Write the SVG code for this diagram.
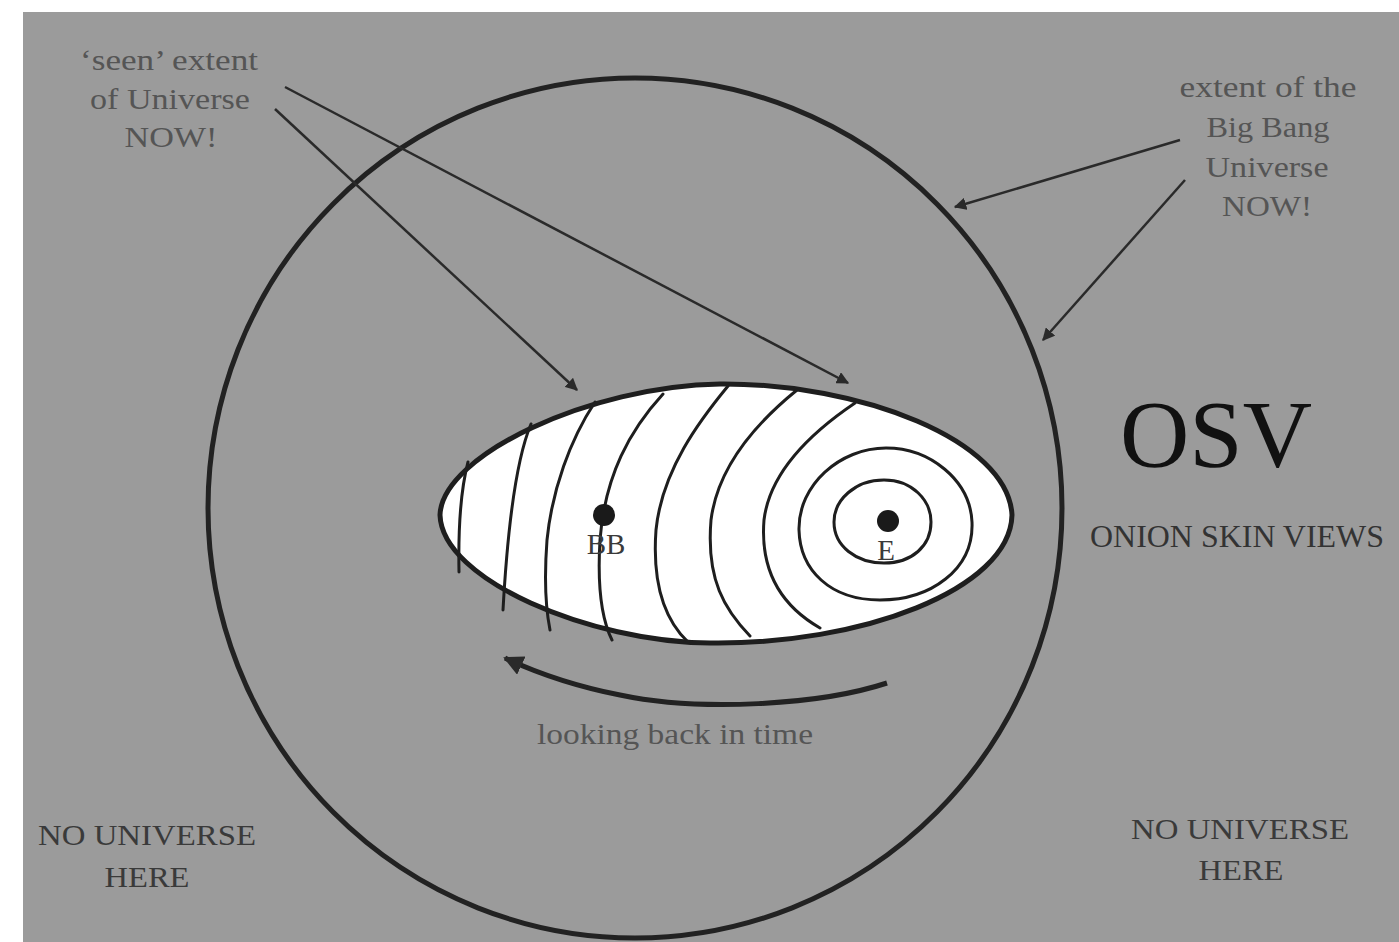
<svg xmlns="http://www.w3.org/2000/svg" width="1399" height="942" viewBox="0 0 1399 942">
<style>
.lbl{font-family:"Liberation Serif","Times New Roman",serif;fill:#555;font-size:29px;text-anchor:middle}
.dark{fill:#3a3a3a}
.ln{fill:none;stroke:#1e1e1e;stroke-width:3;stroke-linecap:round}
.thin{fill:none;stroke:#2a2a2a;stroke-width:2.5}
</style>
<defs>
<marker id="ah" viewBox="0 0 10 10" refX="9" refY="5" markerWidth="5" markerHeight="5" orient="auto" markerUnits="strokeWidth">
<path d="M0,0 L10,5 L0,10 Z" fill="#2a2a2a"/>
</marker>
<marker id="ah2" viewBox="0 0 10 10" refX="9" refY="5" markerWidth="4" markerHeight="4" orient="auto" markerUnits="strokeWidth">
<path d="M0,0 L10,5 L0,10 Z" fill="#2a2a2a"/>
</marker>
</defs>
<rect x="0" y="0" width="1399" height="942" fill="#ffffff"/>
<rect x="23" y="12" width="1376" height="930" fill="#9b9b9b"/>

<g id="universe-circle">
<ellipse cx="635" cy="508" rx="427" ry="430" fill="none" stroke="#222" stroke-width="5"/>
</g>

<g id="seen-universe">
<path d="M440,515 C442,455 590,386 720,384 C860,383 1008,440 1012,515 C1010,590 860,645 710,643 C590,642 442,580 440,515 Z" fill="#ffffff" stroke="#1e1e1e" stroke-width="5"/>
<path class="ln" d="M468,462 C462,485 458,520 459,572"/>
<path class="ln" d="M531,424 C518,455 508,520 503,610"/>
<path class="ln" d="M595,402 C570,440 552,490 547,540 C544,580 546,610 550,630"/>
<path class="ln" d="M663,394 C630,430 605,475 600,540 C597,590 602,620 612,640"/>
<path class="ln" d="M728,386 C700,420 662,470 656,530 C652,585 665,620 688,642"/>
<path class="ln" d="M797,390 C760,420 718,465 711,520 C706,580 725,610 750,636"/>
<path class="ln" d="M855,403 C815,430 770,470 764,520 C760,570 780,605 820,628"/>
<path class="ln" d="M886,448 C930,448 970,480 972,522 C974,570 930,600 880,600 C830,600 800,570 799,530 C798,485 840,448 886,448 Z"/>
<path class="ln" d="M884,480 C912,480 931,500 931,522 C931,546 912,563 884,563 C856,563 834,546 834,522 C834,500 855,480 884,480 Z"/>
<circle cx="604" cy="515" r="11" fill="#1a1a1a"/>
<circle cx="888" cy="521" r="11" fill="#1a1a1a"/>
<text class="lbl dark" x="606" y="554" font-size="26">BB</text>
<text class="lbl dark" x="886" y="560" font-size="26">E</text>
</g>

<g id="connectors">
<line class="thin" x1="285" y1="87" x2="848" y2="383" marker-end="url(#ah)"/>
<line class="thin" x1="275" y1="109" x2="577" y2="390" marker-end="url(#ah)"/>
<line class="thin" x1="1180" y1="140" x2="955" y2="207" marker-end="url(#ah)"/>
<line class="thin" x1="1185" y1="180" x2="1043" y2="340" marker-end="url(#ah)"/>
<path d="M887,683 C820,705 700,712 620,695 C570,685 535,672 505,658" fill="none" stroke="#222" stroke-width="5" marker-end="url(#ah2)"/>
</g>

<g id="label-seen">
<text class="lbl" x="169" y="70" textLength="178" lengthAdjust="spacingAndGlyphs">‘seen’ extent</text>
<text class="lbl" x="170" y="109" textLength="160" lengthAdjust="spacingAndGlyphs">of Universe</text>
<text class="lbl" x="171" y="147" textLength="93" lengthAdjust="spacingAndGlyphs">NOW!</text>
</g>

<g id="label-bigbang">
<text class="lbl" x="1268" y="97" textLength="177" lengthAdjust="spacingAndGlyphs">extent of the</text>
<text class="lbl" x="1268" y="137" textLength="123" lengthAdjust="spacingAndGlyphs">Big Bang</text>
<text class="lbl" x="1267" y="177" textLength="123" lengthAdjust="spacingAndGlyphs">Universe</text>
<text class="lbl" x="1267" y="216" textLength="90" lengthAdjust="spacingAndGlyphs">NOW!</text>
</g>

<g id="label-osv">
<text x="1216" y="467" font-family="Liberation Serif, serif" font-size="96" fill="#111" text-anchor="middle">OSV</text>
<text x="1237" y="547" font-family="Liberation Serif, serif" font-size="31" fill="#333" text-anchor="middle" textLength="294" lengthAdjust="spacingAndGlyphs">ONION SKIN VIEWS</text>
</g>

<g id="label-looking">
<text class="lbl" x="675" y="744" font-size="30" textLength="276" lengthAdjust="spacingAndGlyphs">looking back in time</text>
</g>

<g id="label-nouniverse-left">
<text class="lbl dark" x="147" y="845" textLength="218" lengthAdjust="spacingAndGlyphs">NO UNIVERSE</text>
<text class="lbl dark" x="147" y="887" textLength="85" lengthAdjust="spacingAndGlyphs">HERE</text>
</g>

<g id="label-nouniverse-right">
<text class="lbl dark" x="1240" y="839" textLength="218" lengthAdjust="spacingAndGlyphs">NO UNIVERSE</text>
<text class="lbl dark" x="1241" y="880" textLength="85" lengthAdjust="spacingAndGlyphs">HERE</text>
</g>
</svg>
